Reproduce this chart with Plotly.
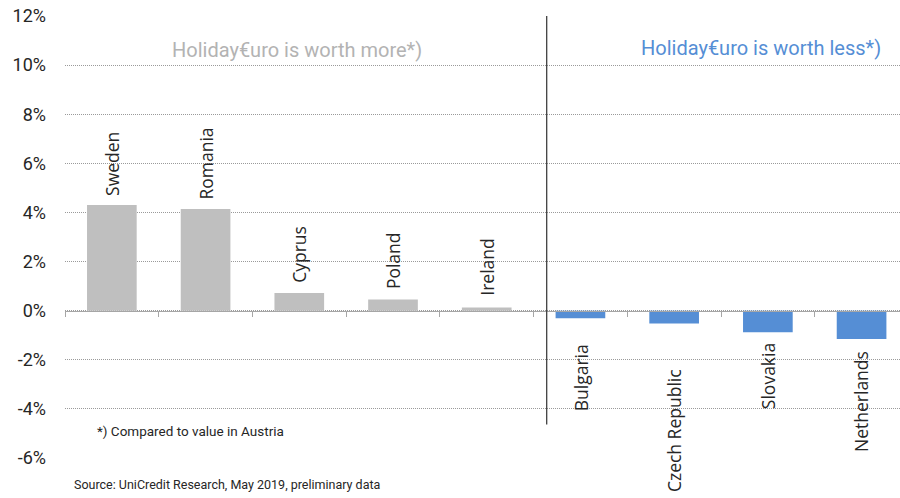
import plotly.graph_objects as go

countries = ["Sweden", "Romania", "Cyprus", "Poland", "Ireland",
             "Bulgaria", "Czech Republic", "Slovakia", "Netherlands"]
values = [4.30, 4.14, 0.72, 0.45, 0.13, -0.31, -0.52, -0.88, -1.15]
y_ticks = [-6, -4, -2, 0, 2, 4, 6, 8, 10, 12]
y_tick_labels = ["-6%", "-4%", "-2%", "0%", "2%", "4%", "6%", "8%", "10%", "12%"]

# label gaps (px) between bar end and its rotated label
label_gaps = [7, 7, 8, 8, 10, 24, 44, 9, 10]

GRAY = "#bfbfbf"
BLUE = "#558ed5"
colors = [GRAY if v >= 0 else BLUE for v in values]

fig = go.Figure()
fig.add_trace(go.Bar(
    x=countries, y=values, marker=dict(color=colors, line=dict(width=0)),
    width=0.53, hoverinfo="skip", showlegend=False,
))

label_font = dict(family="Open Sans", size=17.5, color="#262626")
for c, v, g in zip(countries, values, label_gaps):
    fig.add_annotation(
        x=c, y=v, text=c, textangle=-90, showarrow=False,
        xanchor="center", yanchor="bottom" if v >= 0 else "top",
        yshift=g if v >= 0 else -g, font=label_font,
    )

# separator between groups
fig.add_shape(type="line", xref="x", yref="y", x0=4.64, x1=4.64, y0=12, y1=-4.64,
              line=dict(color="#404040", width=1.3))

fig.add_annotation(xref="paper", yref="paper", x=0.278, y=0.923, xanchor="center", yanchor="middle",
                   text="Holiday€uro is worth more*)",
                   showarrow=False, font=dict(family="Roboto", size=20, color="#b3b3b3"))
fig.add_annotation(xref="paper", yref="paper", x=0.834, y=0.928, xanchor="center", yanchor="middle",
                   text="Holiday€uro is worth less*)",
                   showarrow=False, font=dict(family="Roboto", size=20, color=BLUE))
fig.add_annotation(xref="paper", yref="paper", x=0.036, y=0.061, xanchor="left", yanchor="middle",
                   text="*) Compared to value in Austria", showarrow=False,
                   font=dict(family="Roboto", size=13.5, color="#262626"))
fig.add_annotation(xref="paper", yref="paper", x=0.008, y=-0.06, xanchor="left", yanchor="middle",
                   text="Source: UniCredit Research, May 2019, preliminary data", showarrow=False,
                   font=dict(family="Roboto", size=12.5, color="#262626"))

fig.update_layout(
    width=900, height=498,
    margin=dict(l=65, r=0, t=16, b=40),
    paper_bgcolor="white", plot_bgcolor="white",
    bargap=0.47,
    xaxis=dict(
        type="category", range=[-0.5, 8.41], showgrid=False, showticklabels=False,
        showline=True, linecolor="#a6a6a6", linewidth=1,
        ticks="outside", tickson="boundaries", ticklen=5, tickcolor="#a6a6a6",
        anchor="free", position=1/3, zeroline=False,
    ),
    yaxis=dict(
        range=[-6, 12], tickvals=y_ticks, ticktext=y_tick_labels,
        showgrid=True, gridcolor="#9a9a9a", griddash="1px,1px", gridwidth=1,
        zeroline=False, showline=False, ticks="",
        tickfont=dict(family="Roboto", size=18, color="#262626"), ticklabelstandoff=18,
    ),
)

fig.write_html("out.html", config={"displayModeBar": False},
               post_script="document.body.style.margin='0';")
